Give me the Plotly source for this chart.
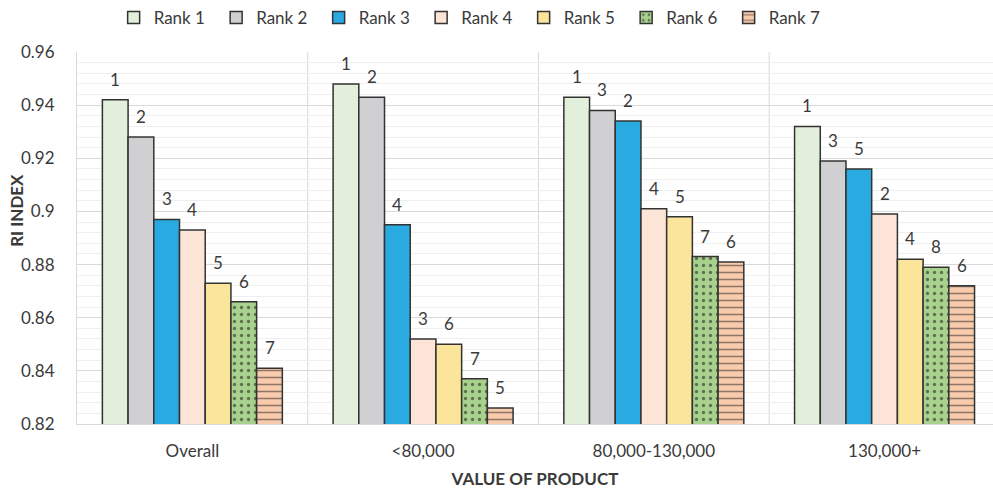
import plotly.graph_objects as go

# Value-of-product segments along the x axis
categories = ["Overall", "<80,000", "80,000-130,000", "130,000+"]

# RI index per rank series, one value per segment
rank_names = ["Rank 1", "Rank 2", "Rank 3", "Rank 4", "Rank 5", "Rank 6", "Rank 7"]
rank1 = [0.942, 0.948, 0.943, 0.932]
rank2 = [0.928, 0.943, 0.938, 0.919]
rank3 = [0.897, 0.895, 0.934, 0.916]
rank4 = [0.893, 0.852, 0.901, 0.899]
rank5 = [0.873, 0.850, 0.898, 0.882]
rank6 = [0.866, 0.837, 0.883, 0.879]
rank7 = [0.841, 0.826, 0.881, 0.872]

# Rank labels printed above each bar
labels1 = ["1", "1", "1", "1"]
labels2 = ["2", "2", "3", "3"]
labels3 = ["3", "4", "2", "5"]
labels4 = ["4", "3", "4", "2"]
labels5 = ["5", "6", "5", "4"]
labels6 = ["6", "7", "7", "8"]
labels7 = ["7", "5", "6", "6"]

series = [rank1, rank2, rank3, rank4, rank5, rank6, rank7]
series_labels = [labels1, labels2, labels3, labels4, labels5, labels6, labels7]

colors = ["#e2efda", "#d0d0d2", "#29abe2", "#fce4d6", "#fbe59a", "#a9d18e", "#f8cbad"]
patterns = [None, None, None, None, None,
            dict(shape=".", fgcolor="#111111", size=7, solidity=0.18),
            dict(shape="-", fgcolor="#222222", size=7, solidity=0.22)]

FONT = "Lato, 'Open Sans', sans-serif"
TEXT = "#3a3a3a"
BARGAP = 0.22

fig = go.Figure()
for name, vals, col, pat in zip(rank_names, series, colors, patterns):
    marker = dict(color=col, line=dict(color="#333333", width=1.5))
    if pat is not None:
        marker["pattern"] = pat
    fig.add_trace(go.Bar(name=name, x=categories, y=vals, marker=marker))

# rank labels placed over the centre of each grouped bar
n = len(series)
bar_w = (1 - BARGAP) / n
annotations = []
for i, (vals, labs) in enumerate(zip(series, series_labels)):
    offset = -(1 - BARGAP) / 2 + (i + 0.5) * bar_w
    for c, (v, t) in enumerate(zip(vals, labs)):
        annotations.append(dict(
            x=c + offset, y=v, xref="x", yref="y", text=t, showarrow=False,
            yanchor="bottom", yshift=8, font=dict(family=FONT, size=17, color=TEXT)))

# y axis title, set close to the tick labels
annotations.append(dict(
    text="<b>RI INDEX</b>", textangle=-90, showarrow=False,
    xref="paper", yref="paper", x=-0.0655, y=0.573, xanchor="center", yanchor="middle",
    font=dict(family=FONT, size=17, color=TEXT)))

# light separators between the segments
shapes = [dict(type="line", xref="x", yref="paper", x0=k + 0.5, x1=k + 0.5,
               y0=0, y1=1, line=dict(color="#d9d9d9", width=1), layer="below")
          for k in range(len(categories) - 1)]

fig.update_layout(
    width=993, height=489,
    margin=dict(l=77, r=0, t=52, b=65),
    paper_bgcolor="white", plot_bgcolor="white",
    barmode="group", bargap=BARGAP, bargroupgap=0,
    font=dict(family=FONT, size=17, color=TEXT),
    annotations=annotations, shapes=shapes,
    legend=dict(orientation="h", xref="paper", x=0.040, xanchor="left",
                yref="container", y=1.0, yanchor="top",
                entrywidth=57.5, entrywidthmode="pixels",
                font=dict(family=FONT, size=17, color=TEXT),
                itemclick=False, tracegroupgap=0),
    showlegend=True,
)

fig.update_xaxes(
    range=[-0.5, 3.47], showline=True, linecolor="#d9d9d9", linewidth=1,
    showgrid=False, ticks="", ticklabelstandoff=12,
    tickfont=dict(family=FONT, size=17, color=TEXT),
    title=dict(text="<b>VALUE OF PRODUCT</b>", font=dict(family=FONT, size=17, color=TEXT),
               standoff=13),
)
fig.update_yaxes(
    range=[0.82, 0.96], dtick=0.02, tick0=0.82, tickformat="~g",
    showline=True, linecolor="#d9d9d9", linewidth=1,
    showgrid=True, gridcolor="#d9d9d9", gridwidth=1, zeroline=False,
    minor=dict(dtick=0.004, tick0=0.82, showgrid=True, gridcolor="#efefef", gridwidth=1),
    ticks="", ticklabelstandoff=18,
    tickfont=dict(family=FONT, size=17, color=TEXT),
)

fig.write_html("out.html")
